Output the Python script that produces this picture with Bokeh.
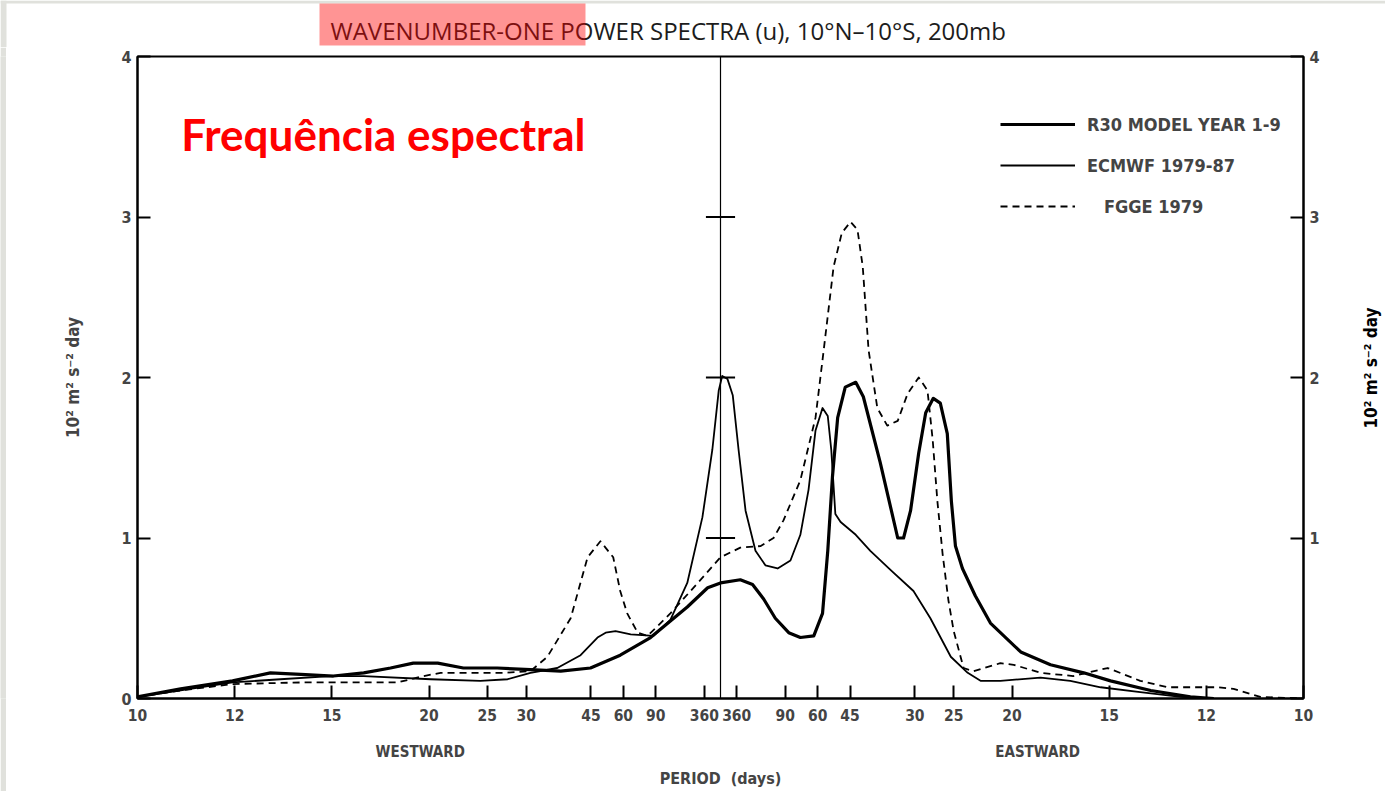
import math
from bokeh.plotting import figure
from bokeh.layouts import column, row
from bokeh.core.properties import value
from bokeh.models import (Range1d, LinearAxis, FixedTicker, Span, Label,
                          Legend, LegendItem, CustomJSTickFormatter)
from bokeh.embed import file_html
from bokeh.resources import INLINE

# Frequency axis in cycles/day: negative = westward, positive = eastward.
# Power in units of 10^2 m^2 s^-2 day.
r30_freq = [-0.1000, -0.0926, -0.0837, -0.0772, -0.0720, -0.0664, -0.0612, -0.0566,
            -0.0527, -0.0485, -0.0441, -0.0383, -0.0326, -0.0274, -0.0223, -0.0172,
            -0.0120, -0.0057, -0.0022, 0.0000, 0.0034, 0.0055, 0.0074, 0.0094,
            0.0117, 0.0137, 0.0160, 0.0175, 0.0184, 0.0192, 0.0201, 0.0214,
            0.0232, 0.0245, 0.0274, 0.0304, 0.0314, 0.0326, 0.0340, 0.0352,
            0.0365, 0.0377, 0.0389, 0.0396, 0.0403, 0.0415, 0.0437, 0.0463,
            0.0515, 0.0566, 0.0623, 0.0669, 0.0738, 0.0806, 0.0846]
r30_power = [0.01, 0.06, 0.11, 0.16, 0.15, 0.14, 0.16, 0.19,
             0.22, 0.22, 0.19, 0.19, 0.18, 0.17, 0.19, 0.27,
             0.38, 0.57, 0.69, 0.72, 0.74, 0.71, 0.62, 0.50,
             0.41, 0.38, 0.39, 0.53, 0.92, 1.38, 1.75, 1.94,
             1.97, 1.88, 1.47, 1.00, 1.00, 1.17, 1.53, 1.78,
             1.87, 1.84, 1.65, 1.23, 0.95, 0.81, 0.64, 0.47,
             0.29, 0.21, 0.16, 0.11, 0.05, 0.01, 0.00]

ecmwf_freq = [-0.1000, -0.0926, -0.0837, -0.0755, -0.0669, -0.0612, -0.0497, -0.0412,
              -0.0365, -0.0326, -0.0280, -0.0240, -0.0211, -0.0197, -0.0180, -0.0154,
              -0.0115, -0.0086, -0.0057, -0.0031, -0.0014, -0.0003, 0.0003, 0.0012,
              0.0021, 0.0031, 0.0043, 0.0060, 0.0077, 0.0098, 0.0120, 0.0137,
              0.0151, 0.0163, 0.0175, 0.0184, 0.0190, 0.0197, 0.0206, 0.0232,
              0.0257, 0.0292, 0.0331, 0.0360, 0.0395, 0.0424, 0.0446, 0.0480,
              0.0549, 0.0600, 0.0652, 0.0720, 0.0789, 0.0846]
ecmwf_power = [0.01, 0.05, 0.10, 0.12, 0.14, 0.14, 0.12, 0.11,
               0.12, 0.16, 0.19, 0.27, 0.38, 0.41, 0.42, 0.40,
               0.39, 0.49, 0.72, 1.13, 1.55, 1.92, 2.01, 1.99,
               1.89, 1.55, 1.17, 0.92, 0.83, 0.81, 0.86, 1.02,
               1.30, 1.67, 1.81, 1.76, 1.55, 1.15, 1.10, 1.02,
               0.92, 0.80, 0.67, 0.50, 0.26, 0.16, 0.11, 0.11,
               0.13, 0.11, 0.07, 0.04, 0.01, 0.00]

fgge_freq = [-0.1000, -0.0926, -0.0837, -0.0720, -0.0605, -0.0554, -0.0509, -0.0480,
             -0.0429, -0.0372, -0.0326, -0.0297, -0.0257, -0.0228, -0.0206, -0.0184,
             -0.0172, -0.0160, -0.0142, -0.0125, -0.0086, -0.0039, 0.0000, 0.0034,
             0.0069, 0.0091, 0.0108, 0.0137, 0.0163, 0.0177, 0.0194, 0.0208,
             0.0223, 0.0235, 0.0244, 0.0254, 0.0269, 0.0286, 0.0304, 0.0321,
             0.0340, 0.0355, 0.0364, 0.0372, 0.0381, 0.0391, 0.0400, 0.0417,
             0.0434, 0.0480, 0.0503, 0.0549, 0.0605, 0.0664, 0.0720, 0.0767,
             0.0852, 0.0880, 0.0926, 0.1000]
fgge_power = [0.01, 0.05, 0.09, 0.10, 0.10, 0.10, 0.14, 0.16,
              0.16, 0.16, 0.17, 0.26, 0.50, 0.88, 0.98, 0.88,
              0.67, 0.53, 0.41, 0.39, 0.53, 0.72, 0.88, 0.94,
              0.95, 1.00, 1.11, 1.36, 1.75, 2.17, 2.69, 2.90,
              2.97, 2.92, 2.69, 2.17, 1.81, 1.70, 1.73, 1.90,
              2.00, 1.92, 1.61, 1.23, 0.90, 0.61, 0.42, 0.19,
              0.17, 0.22, 0.21, 0.16, 0.14, 0.19, 0.11, 0.07,
              0.07, 0.06, 0.01, 0.00]

period_days = [10, 12, 15, 20, 25, 30, 45, 60, 90, 360]
power_ticks = [0, 1, 2, 3, 4]
direction_centres = [-0.0515, 0.0544]   # where WESTWARD / EASTWARD sit

series_labels = ["R30 MODEL YEAR 1-9", "ECMWF 1979-87", "\u00a0\u00a0\u00a0FGGE 1979"]
heading = "WAVENUMBER-ONE POWER SPECTRA (u), 10\u00b0N\u201310\u00b0S, 200mb"
unit_label = "10\u00b2 m\u00b2 s\u207b\u00b2 day"

tick_freqs = [-1.0 / d for d in period_days] + [1.0 / d for d in reversed(period_days)]

COND = "DejaVu Sans Condensed"
PAGE_GREY = "#e0e1dc"
HEAD_H = 47
BODY_H = 791 - HEAD_H
EDGE_W = 6
SIDE_W = 30
MAIN_W = 1385 - EDGE_W - SIDE_W

# ---- heading strip -------------------------------------------------------
head = figure(width=1385, height=HEAD_H, output_backend="svg", toolbar_location=None,
              x_range=Range1d(0, 1385), y_range=Range1d(HEAD_H, 0),
              x_axis_location=None, y_axis_location=None,
              min_border=0, outline_line_color=None,
              background_fill_color="white", border_fill_color="white")
head.grid.visible = False
head.quad(left=[0, 0], right=[1385, EDGE_W], top=[0, 0], bottom=[3, HEAD_H],
          fill_color=PAGE_GREY, line_color=None)
head.text(x=[330], y=[30.3], text=[heading], text_font=value("Open Sans"),
          text_font_size="24px", text_color="#1c1c1c",
          text_baseline="middle", text_align="left")
head.quad(left=[319], right=[585], top=[3], bottom=[45],
          fill_color="#ff0000", fill_alpha=0.42, line_color=None)

# ---- page edge to the left of the chart ----------------------------------
edge = figure(width=EDGE_W, height=BODY_H, output_backend="svg", toolbar_location=None,
              x_axis_location=None, y_axis_location=None, min_border=0,
              outline_line_color=None, background_fill_color=PAGE_GREY,
              border_fill_color=PAGE_GREY)
edge.grid.visible = False

# ---- unit caption on the right, reading upwards ---------------------------
side = figure(width=SIDE_W, height=BODY_H, output_backend="svg", toolbar_location=None,
              x_range=Range1d(0, SIDE_W), y_range=Range1d(BODY_H, 0),
              x_axis_location=None, y_axis_location=None, min_border=0,
              outline_line_color=None, background_fill_color="white",
              border_fill_color="white")
side.grid.visible = False
side.text(x=[15], y=[361], text=[unit_label], angle=math.pi / 2,
          text_font=value(COND), text_font_style="bold", text_font_size="17px",
          text_color="black", text_align="center", text_baseline="middle")

# ---- spectra -------------------------------------------------------------
p = figure(width=MAIN_W, height=BODY_H, output_backend="svg", toolbar_location=None,
           x_range=Range1d(-0.1, 0.1), y_range=Range1d(0, 4),
           x_axis_location=None, y_axis_location=None,
           min_border_left=137 - EDGE_W, min_border_right=MAIN_W - (137 - EDGE_W) - 1166,
           min_border_top=56 - HEAD_H, min_border_bottom=93,
           background_fill_color="white", border_fill_color="white")
p.grid.visible = False
p.outline_line_color = "black"
p.outline_line_width = 2

period_fmt = CustomJSTickFormatter(code="""
    if (Math.abs(tick) < 1e-9) { return ''; }
    return String(Math.round(1 / Math.abs(tick)));
""")

xaxis = LinearAxis(ticker=FixedTicker(ticks=tick_freqs), formatter=period_fmt)
xaxis.major_tick_in = 13
xaxis.major_tick_out = 0
xaxis.minor_tick_line_color = None
xaxis.axis_line_width = 2
xaxis.major_tick_line_width = 2
xaxis.major_label_standoff = 10
xaxis.major_label_text_font = COND
xaxis.major_label_text_font_style = "bold"
xaxis.major_label_text_font_size = "15.5px"
p.add_layout(xaxis, "below")

direction_fmt = CustomJSTickFormatter(code="return tick < 0 ? 'WESTWARD' : 'EASTWARD';")
diraxis = LinearAxis(ticker=FixedTicker(ticks=direction_centres), formatter=direction_fmt,
                     axis_label="PERIOD\u00a0\u00a0(days)")
diraxis.axis_line_color = None
diraxis.major_tick_line_color = None
diraxis.minor_tick_line_color = None
diraxis.major_label_standoff = 13
diraxis.major_label_text_font = COND
diraxis.major_label_text_font_style = "bold"
diraxis.major_label_text_font_size = "15px"
diraxis.axis_label_standoff = 5
diraxis.axis_label_text_font = COND
diraxis.axis_label_text_font_style = "bold"
diraxis.axis_label_text_font_size = "16px"
p.add_layout(diraxis, "below")

for where in ("left", "right"):
    ax = LinearAxis(ticker=FixedTicker(ticks=power_ticks))
    ax.major_tick_in = 13
    ax.major_tick_out = 0
    ax.minor_tick_line_color = None
    ax.axis_line_width = 2
    ax.major_tick_line_width = 2
    ax.major_label_standoff = 6
    ax.major_label_text_font = COND
    ax.major_label_text_font_style = "bold"
    ax.major_label_text_font_size = "16px"
    if where == "left":
        ax.axis_label = unit_label
        ax.axis_label_text_font = COND
        ax.axis_label_text_font_style = "bold"
        ax.axis_label_text_font_size = "17px"
        ax.axis_label_standoff = 35
    else:
        ax.major_label_overrides = {0: ""}
    p.add_layout(ax, where)

# zero-frequency divider with its own short ticks
p.add_layout(Span(location=0, dimension="height", line_color="black", line_width=1.2))
p.segment(x0=[-0.0025] * 3, x1=[0.0025] * 3, y0=power_ticks[1:4], y1=power_ticks[1:4],
          line_color="black", line_width=2)

r_r30 = p.line(r30_freq, r30_power, line_color="black", line_width=3.2, line_join="round")
r_ecm = p.line(ecmwf_freq, ecmwf_power, line_color="black", line_width=1.8, line_join="round")
r_fgg = p.line(fgge_freq, fgge_power, line_color="black", line_width=1.8,
               line_dash="7 5", line_join="round")

legend = Legend(items=[LegendItem(label=series_labels[0], renderers=[r_r30]),
                       LegendItem(label=series_labels[1], renderers=[r_ecm]),
                       LegendItem(label=series_labels[2], renderers=[r_fgg])],
                location=(863, 481), glyph_width=75, glyph_height=22, spacing=19,
                label_standoff=12, padding=0, margin=0,
                border_line_color=None, background_fill_alpha=0,
                label_text_font=COND, label_text_font_style="bold",
                label_text_font_size="18px")
p.add_layout(legend)

p.add_layout(Label(x=-0.0925, y=3.52, text="Frequência espectral", text_align="left",
                   text_baseline="alphabetic", text_font="Lato", text_font_style="bold",
                   text_font_size="44px", text_color="#ff0000"))

layout = column(head, row(edge, p, side))
open("out.html", "w").write(file_html(layout, INLINE))
